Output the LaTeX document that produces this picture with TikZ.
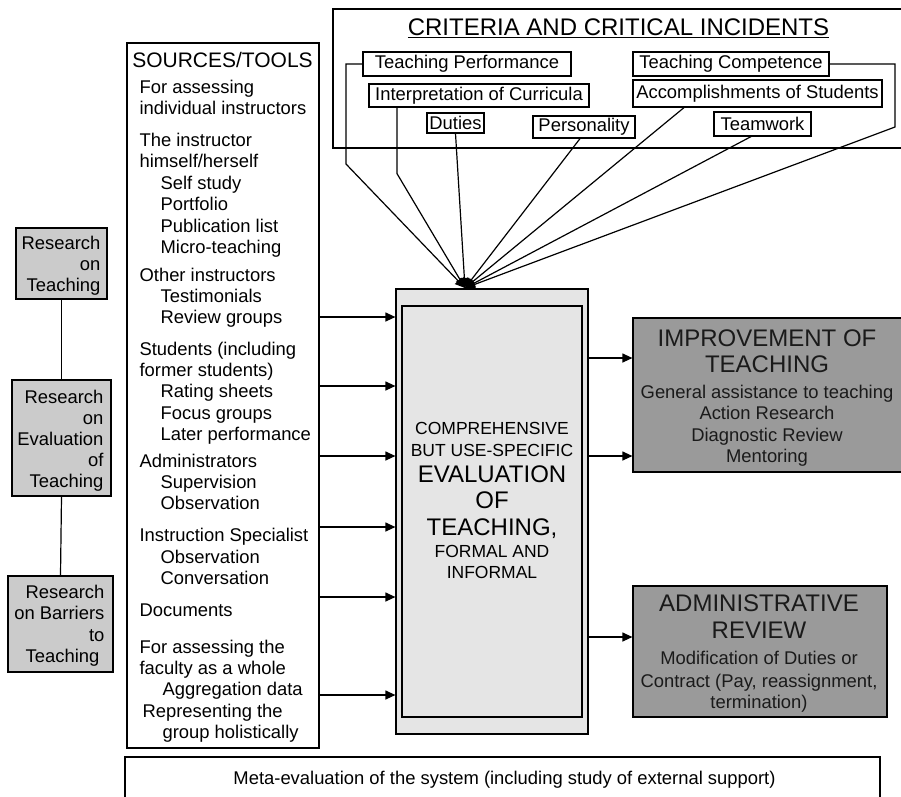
\documentclass[tikz,border=0pt]{standalone}
\usepackage{fontspec}
\setmainfont{Liberation Sans}
\usetikzlibrary{arrows.meta}
\newcommand\szBody{\fontsize{18.4}{21}\selectfont}
\newcommand\szBig{\fontsize{24}{26}\selectfont}
\newcommand\szHead{\fontsize{21}{24}\selectfont}
\newcommand\szMid{\fontsize{17.5}{21}\selectfont}
\definecolor{lgray}{HTML}{E5E5E5}
\definecolor{mgray}{HTML}{CBCBCB}
\definecolor{dgray}{HTML}{9A9A9A}
\definecolor{ink}{HTML}{1A1A1A}
\begin{document}
\begin{tikzpicture}[x=1pt,y=-1pt,font=\szBody,line width=1.2pt,
  rbox/.style={draw, inner sep=0pt},
  lbox/.style={draw, inner sep=0pt, fill=white},
  txt/.style={anchor=base west, inner sep=0pt},
  ctxt/.style={anchor=base, inner sep=0pt},
  rtxt/.style={anchor=base east, inner sep=0pt},
  arr/.style={-{Triangle[length=10pt,width=9pt]}}]
\useasboundingbox (0,0) rectangle (901,796);
\clip (0,0) rectangle (901,796);
\fill[white] (0,0) rectangle (901,796);

% ---------- criteria frame ----------
\node[rbox, minimum width=580pt, minimum height=139pt] (crit) at (623,78.5) {};
\node[ctxt, font=\szBig] (ctitle) at (618.5,35.6) {\underline{CRITERIA AND CRITICAL INCIDENTS}};

% ---------- evaluation box ----------
\node[rbox, fill=lgray, minimum width=192pt, minimum height=445pt] (evo) at (492,511.5) {};
\node[rbox, fill=lgray, minimum width=180pt, minimum height=411pt] (evi) at (492,511.5) {};
\node[ctxt, font=\szMid] (e1) at (492,434.3) {COMPREHENSIVE};
\node[ctxt, font=\szMid] (e2) at (492,456.3) {BUT USE-SPECIFIC};
\node[ctxt, font=\szBig] (e3) at (492,482.6) {EVALUATION};
\node[ctxt, font=\szBig] (e4) at (492,508.6) {OF};
\node[ctxt, font=\szBig] (e5) at (492,535.6) {TEACHING,};
\node[ctxt, font=\szMid] (e6) at (492,557.3) {FORMAL AND};
\node[ctxt, font=\szMid] (e7) at (492,578.3) {INFORMAL};

% ---------- criteria connectors ----------
\coordinate (tip) at (465,288);
\node[lbox, minimum width=208pt, minimum height=24pt] (tp) at (467,64) {Teaching Performance};
\node[lbox, minimum width=220pt, minimum height=23pt] (ic) at (479,95.5) {Interpretation of Curricula};
\node[lbox, minimum width=57pt, minimum height=20pt] (du) at (455.5,123) {Duties};
\node[lbox, minimum width=102pt, minimum height=22pt] (pe) at (584,127) {Personality};
\node[lbox, minimum width=196pt, minimum height=24pt] (tc) at (731,64) {Teaching Competence};
\node[lbox, minimum width=249pt, minimum height=27pt] (ac) at (757.5,93.5) {Accomplishments of Students};
\node[lbox, minimum width=97pt, minimum height=24pt] (tw) at (762.5,124) {Teamwork};

\draw[arr] (tp.west) -| (346,164) -- (tip);
\draw[arr] ([xshift=-82pt]ic.south) -- ++(0,66) -- (tip);
\draw[arr] (du.south) -- (tip);
\draw[arr] ([xshift=-4pt]pe.south) -- (tip);
\draw[arr] ([xshift=-73.5pt]ac.south) -- (tip);
\draw[arr] ([xshift=-11.5pt]tw.south) -- (tip);
\draw[arr] (tc.east) -| (895,127) -- (tip);

% ---------- sources box ----------
\node[rbox, minimum width=192pt, minimum height=705pt] (src) at (223,395.5) {};
\node[ctxt, font=\szHead] (srch) at (222.5,67.5) {SOURCES/TOOLS};
\foreach \xx/\yy/\tt [count=\i] in {
  139/93.6/{For assessing},
  139/114.6/{individual instructors},
  139/146.6/{The instructor},
  139/167.6/{himself/herself},
  160/189.6/{Self study},
  160/210.6/{Portfolio},
  160/232.6/{Publication list},
  160/253.6/{Micro-teaching},
  139/281.6/{Other instructors},
  160/302.6/{Testimonials},
  160/323.6/{Review groups},
  139/355.6/{Students (including},
  139/376.6/{former students)},
  160/397.6/{Rating sheets},
  160/419.6/{Focus groups},
  160/440.6/{Later performance},
  139/467.6/{Administrators},
  160/488.6/{Supervision},
  160/509.6/{Observation},
  139/541.6/{Instruction Specialist},
  160/563.6/{Observation},
  160/584.6/{Conversation},
  139/616.6/{Documents},
  139/653.6/{For assessing the},
  139/674.6/{faculty as a whole},
  162/695.6/{Aggregation data},
  142/717.6/{Representing the},
  162/738.6/{group holistically}}
  \node[txt] (s\i) at (\xx,\yy) {\tt};

% source arrows
\foreach \yy in {317,386,456,527,597,695} {
  \coordinate (lev) at (0,\yy);
  \draw[arr] (src.east |- lev) -- (evo.west |- lev);
}

% ---------- output boxes ----------
\node[rbox, fill=dgray, minimum width=277pt, minimum height=154pt] (imp) at (771.5,395) {};
\node[ctxt, font=\szBig, text=ink] (i1) at (767,346.6) {IMPROVEMENT OF};
\node[ctxt, font=\szBig, text=ink] (i2) at (767,372.6) {TEACHING};
\node[ctxt, text=ink] (i3) at (767,398.6) {General assistance to teaching};
\node[ctxt, text=ink] (i4) at (767,419.6) {Action Research};
\node[ctxt, text=ink] (i5) at (767,441.6) {Diagnostic Review};
\node[ctxt, text=ink] (i6) at (767,462.6) {Mentoring};

\node[rbox, fill=dgray, minimum width=254pt, minimum height=131pt] (adm) at (760,651.5) {};
\node[ctxt, font=\szBig, text=ink] (a1) at (759,611.6) {ADMINISTRATIVE};
\node[ctxt, font=\szBig, text=ink] (a2) at (759,638.6) {REVIEW};
\node[ctxt, text=ink] (a3) at (759,664.6) {Modification of Duties or};
\node[ctxt, text=ink] (a4) at (759,687.6) {Contract (Pay, reassignment,};
\node[ctxt, text=ink] (a5) at (759,708.6) {termination)};

\foreach \yy/\tg in {358/imp,456/imp,637/adm} {
  \coordinate (lev) at (0,\yy);
  \draw[arr] (evo.east |- lev) -- (\tg.west |- lev);
}

% ---------- research boxes ----------
\node[rbox, fill=mgray, minimum width=91pt, minimum height=71pt] (rot) at (61.5,263.5) {};
\node[rtxt] (r1) at (101,249.6) {Research};
\node[rtxt] (r2) at (101,270.6) {on};
\node[rtxt] (r3) at (101,291.6) {Teaching};

\node[rbox, fill=mgray, minimum width=99pt, minimum height=116pt] (roe) at (61.5,438) {};
\node[rtxt] (q1) at (104,403.6) {Research};
\node[rtxt] (q2) at (104,424.6) {on};
\node[rtxt] (q3) at (104,445.6) {Evaluation};
\node[rtxt] (q4) at (104,466.6) {of};
\node[rtxt] (q5) at (104,487.6) {Teaching};

\node[rbox, fill=mgray, minimum width=105pt, minimum height=96pt] (rob) at (60.5,624) {};
\node[rtxt] (b1) at (105,598.6) {Research};
\node[rtxt] (b2) at (105,619.6) {on Barriers};
\node[rtxt] (b3) at (105,641.6) {to};
\node[rtxt] (b4) at (100,662.6) {Teaching};

\draw (rot.south) -- (roe.north);
\draw (roe.south) -- (rob.north);

% ---------- meta-evaluation ----------
\node[rbox, minimum width=755pt, minimum height=53pt] (meta) at (502.5,783.5) {};
\node[ctxt] (mt) at (504.5,784.6) {Meta-evaluation of the system (including study of external support)};
\end{tikzpicture}
\end{document}
